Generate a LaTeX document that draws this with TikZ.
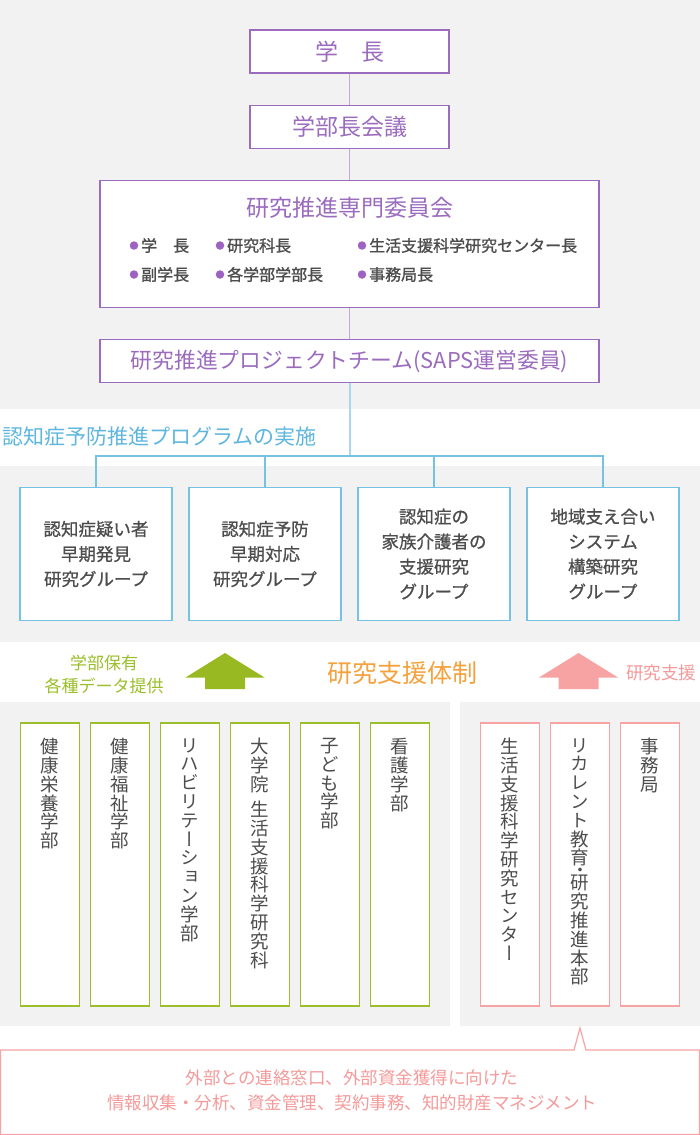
\documentclass[tikz,border=0pt]{standalone}
\usepackage{fontspec}
\setmainfont{Noto Sans CJK JP}
\newfontfamily\vjp[RawFeature=+vert]{Noto Sans CJK JP}
\newfontface\mjp[FakeBold=0.8]{Noto Sans CJK JP}
\newfontface\bjp[FakeBold=1.2]{Noto Sans CJK JP}
\usetikzlibrary{positioning}

\definecolor{kpurple}{HTML}{9B6CBE}
\definecolor{klilac}{HTML}{C8A6DC}
\definecolor{kdot}{HTML}{9D62C2}
\definecolor{kblue}{HTML}{76C2E4}
\definecolor{kskyline}{HTML}{A9D8EE}
\definecolor{kbluetext}{HTML}{5DB6E0}
\definecolor{kgreen}{HTML}{9BBE2A}
\definecolor{kgreenarrow}{HTML}{98B922}
\definecolor{kpink}{HTML}{F7A3A3}
\definecolor{kpinktext}{HTML}{F59A9A}
\definecolor{korange}{HTML}{F5A23E}
\definecolor{kgray}{HTML}{4D4D4D}
\definecolor{kbg}{HTML}{F2F2F2}

\begin{document}
\begin{tikzpicture}[x=1pt, y=-1pt,
    pbox/.style = {draw=kpurple, line width=1.2pt, fill=white, text=kpurple, inner sep=0pt},
    gbox/.style = {draw=kblue, line width=1.2pt, fill=white, text=kgray, inner sep=0pt,
        minimum width=152pt, minimum height=133pt, align=center,
        font=\mjp\fontsize{17.5}{25}\selectfont},
    fbox/.style = {draw=kgreen, line width=1.2pt, fill=white, inner sep=0pt,
        minimum width=59pt, minimum height=283pt},
    sbox/.style = {draw=kpink, line width=1.2pt, fill=white, inner sep=0pt,
        minimum width=59pt, minimum height=283pt},
    vtext/.style = {anchor=north, text=kgray, align=center, inner sep=0pt,
        font=\vjp\fontsize{18.5}{18.8}\selectfont},
    dot/.style = {circle, fill=kdot, inner sep=0pt, minimum size=8.5pt},
    item/.style = {text=kgray, inner sep=0pt, font=\bjp\fontsize{16}{18}\selectfont},
    pline/.style = {draw=klilac, line width=1.6pt},
    bline/.style = {draw=kblue, line width=1.2pt}]

    \useasboundingbox (0,0) rectangle (700,1135);
    \fill[white] (0,0) rectangle (700,1135);
    \fill[kbg] (0,0) rectangle (700,409);
    \fill[kbg] (0,466) rectangle (700,642);
    \fill[kbg] (0,702) rectangle (450,1026);
    \fill[kbg] (460,702) rectangle (700,1026);

    % upper chain
    \node[pbox, minimum width=199pt, minimum height=43pt, font=\fontsize{23}{26}\selectfont] (1) at (349.5,51.5) {学　長};
    \node[pbox, minimum width=199pt, minimum height=43pt, font=\fontsize{23}{26}\selectfont] (2) [below=31pt of 1] {学部長会議};
    \node[pbox, minimum width=499pt, minimum height=127pt] (3) [below=31pt of 2] {};
    \node[pbox, minimum width=499pt, minimum height=43pt, font=\fontsize{21.8}{26}\selectfont] (4) [below=31pt of 3] {研究推進プロジェクトチーム(SAPS運営委員)};

    \draw[pline] (1) -- (2);
    \draw[pline] (2) -- (3);
    \draw[pline] (3) -- (4);

    \node[text=kpurple, inner sep=0pt, font=\fontsize{23}{26}\selectfont] (3t) at (349.5,208) {研究推進専門委員会};

    \node[dot] (d1) at (134,245.5) {};
    \node[item, right=2.5pt of d1] (i1) {学　長};
    \node[dot] (d2) at (220,245.5) {};
    \node[item, right=2.5pt of d2] (i2) {研究科長};
    \node[dot] (d3) at (362,245.5) {};
    \node[item, right=2.5pt of d3] (i3) {生活支援科学研究センター長};
    \node[dot] (d4) at (134,274.5) {};
    \node[item, right=2.5pt of d4] (i4) {副学長};
    \node[dot] (d5) at (220,274.5) {};
    \node[item, right=2.5pt of d5] (i5) {各学部学部長};
    \node[dot] (d6) at (362,274.5) {};
    \node[item, right=2.5pt of d6] (i6) {事務局長};

    % program
    \node[anchor=west, text=kbluetext, inner sep=0pt, font=\fontsize{21}{24}\selectfont] (prog) at (2,437) {認知症予防推進プログラムの実施};
    \coordinate (bus) at (349.5,456);

    \node[gbox] (g1) at (96,554) {認知症疑い者\\早期発見\\研究グループ};
    \node[gbox] (g2) at (265,554) {認知症予防\\早期対応\\研究グループ};
    \node[gbox] (g3) at (434,554) {認知症の\\家族介護者の\\支援研究\\グループ};
    \node[gbox] (g4) at (603,554) {地域支え合い\\システム\\構築研究\\グループ};

    \draw[draw=kskyline, line width=2pt] (4) -- (bus);
    \draw[bline] (g1.north) |- (bus) -| (g4.north);
    \draw[bline] (g2.north) -- (g2.north |- bus);
    \draw[bline] (g3.north) -- (g3.north |- bus);

    % support band
    \node[text=kgreen, align=center, inner sep=0pt, font=\fontsize{17}{23}\selectfont] (data) at (104,674.5) {学部保有\\各種データ提供};
    \fill[kgreenarrow] (225,653) -- (264.5,677.5) -- (245,677.5) -- (245,689) -- (205,689) -- (205,677.5) -- (185.5,677.5) -- cycle;
    \node[text=korange, inner sep=0pt, font=\fontsize{25}{28}\selectfont] (taisei) at (402,673) {研究支援体制};
    \fill[kpink] (578.5,653) -- (618,677.5) -- (598.5,677.5) -- (598.5,689) -- (558.5,689) -- (558.5,677.5) -- (539,677.5) -- cycle;
    \node[anchor=west, text=kpinktext, inner sep=0pt, font=\fontsize{17.5}{20}\selectfont] (shien) at (626,673) {研究支援};

    % faculties
    \node[fbox] (f1) at (50,864.5) {};
    \node[fbox] (f2) at (120,864.5) {};
    \node[fbox] (f3) at (190,864.5) {};
    \node[fbox] (f4) at (260,864.5) {};
    \node[fbox] (f5) at (330,864.5) {};
    \node[fbox] (f6) at (400,864.5) {};
    \node[vtext] (t1) at (50,738) {健\\康\\栄\\養\\学\\部};
    \node[vtext] (t2) at (120,738) {健\\康\\福\\祉\\学\\部};
    \node[vtext] (t3) at (190,738) {リ\\ハ\\ビ\\リ\\テ\\ー\\シ\\ョ\\ン\\学\\部};
    \node[vtext] (t4) at (260,738) {大\\学\\院\\[6.5pt]生\\活\\支\\援\\科\\学\\研\\究\\科};
    \node[vtext] (t5) at (330,738) {子\\ど\\も\\学\\部};
    \node[vtext] (t6) at (400,738) {看\\護\\学\\部};

    \node[sbox] (s1) at (510,864.5) {};
    \node[sbox] (s2) at (580,864.5) {};
    \node[sbox] (s3) at (650,864.5) {};
    \node[vtext] (u1) at (510,738) {生\\活\\支\\援\\科\\学\\研\\究\\セ\\ン\\タ\\ー};
    \node[vtext] (u2) at (580,738) {リ\\カ\\レ\\ン\\ト\\教\\育\\[-11.8pt]{\fontsize{4}{4}\selectfont ●}\\[-0.8pt]研\\究\\推\\進\\本\\部};
    \node[vtext] (u3) at (650,738) {事\\務\\局};

    % callout
    \draw[draw=kpink, line width=1.2pt, fill=white] (0.6,1050) -- (574,1050) -- (580,1028) -- (586,1050) -- (699.4,1050) -- (699.4,1134.4) -- (0.6,1134.4) -- cycle;
    \node[text=kpinktext, align=center, inner sep=0pt, font=\fontsize{17.5}{25}\selectfont] (note) at (352,1090.5) {外部との連絡窓口、外部資金獲得に向けた\\情報収集・分析、資金管理、契約事務、知的財産マネジメント};
\end{tikzpicture}
\end{document}
